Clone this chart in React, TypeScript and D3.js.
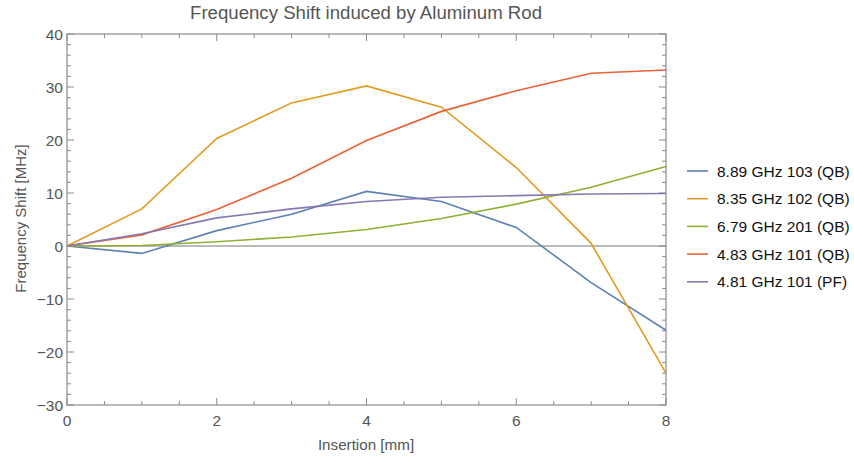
import React from "react";
import * as d3 from "d3";

const insertion = [0, 1, 2, 3, 4, 5, 6, 7, 8];
const seriesNames = [
  "8.89 GHz 103 (QB)",
  "8.35 GHz 102 (QB)",
  "6.79 GHz 201 (QB)",
  "4.83 GHz 101 (QB)",
  "4.81 GHz 101 (PF)",
];
const s889 = [0, -1.4, 2.9, 6.0, 10.3, 8.4, 3.5, -6.9, -15.9];
const s835 = [0, 7.0, 20.3, 27.0, 30.2, 26.2, 14.8, 0.5, -24.0];
const s679 = [0, 0.1, 0.8, 1.7, 3.1, 5.2, 7.9, 11.1, 15.0];
const s483 = [0, 2.1, 6.9, 12.8, 19.9, 25.4, 29.3, 32.6, 33.2];
const s481 = [0, 2.3, 5.3, 7.0, 8.4, 9.2, 9.5, 9.8, 9.9];
const seriesColors = ["#5E81B5", "#E19C24", "#8FB032", "#EB6235", "#8778B3"];
const xMajor = [0, 2, 4, 6, 8];
const yMajor = [-30, -20, -10, 0, 10, 20, 30, 40];

export default function App() {
  const W = 854, H = 458;
  const left = 67, right = 666, top = 34, bottom = 405;
  const x = d3.scaleLinear().domain([0, 8]).range([left, right]);
  const y = d3.scaleLinear().domain([-30, 40]).range([bottom, top]);
  const all = [s889, s835, s679, s483, s481];
  const line = d3.line<number>().x((_, i) => x(insertion[i])).y((d) => y(d));
  const xMinor = d3.range(0, 8.001, 0.5).filter((v) => !xMajor.includes(v));
  const yMinor = d3.range(-30, 40.001, 2).filter((v) => !yMajor.includes(v));
  const frame = "#8a8a8a";
  const font = "'Liberation Sans', Arial, sans-serif";
  const labelColor = "#555";
  return (
    <svg width={W} height={H} style={{ position: "absolute", left: 0, top: 0, background: "#fff" }} fontFamily={font}>
      <text x={366} y={19} textAnchor="middle" fontSize={17.5} fill="#555" textLength={352} lengthAdjust="spacingAndGlyphs">Frequency Shift induced by Aluminum Rod</text>
      {/* zero line */}
      <line x1={left} x2={right} y1={y(0)} y2={y(0)} stroke="#777" strokeWidth={1} />
      {/* ticks */}
      {xMajor.map((v) => (
        <g key={"xM" + v}>
          <line x1={x(v)} x2={x(v)} y1={bottom} y2={bottom - 7} stroke={frame} />
          <line x1={x(v)} x2={x(v)} y1={top} y2={top + 7} stroke={frame} />
          <text x={x(v)} y={bottom + 21} textAnchor="middle" fontSize={15.5} fill={labelColor}>{v}</text>
        </g>
      ))}
      {xMinor.map((v) => (
        <g key={"xm" + v}>
          <line x1={x(v)} x2={x(v)} y1={bottom} y2={bottom - 4} stroke={frame} />
          <line x1={x(v)} x2={x(v)} y1={top} y2={top + 4} stroke={frame} />
        </g>
      ))}
      {yMajor.map((v) => (
        <g key={"yM" + v}>
          <line x1={left} x2={left + 7} y1={y(v)} y2={y(v)} stroke={frame} />
          <line x1={right} x2={right - 7} y1={y(v)} y2={y(v)} stroke={frame} />
          <text x={left - 4} y={y(v) + 5.5} textAnchor="end" fontSize={15.5} fill={labelColor}>{v < 0 ? "\u2212" + Math.abs(v) : v}</text>
        </g>
      ))}
      {yMinor.map((v) => (
        <g key={"ym" + v}>
          <line x1={left} x2={left + 4} y1={y(v)} y2={y(v)} stroke={frame} />
          <line x1={right} x2={right - 4} y1={y(v)} y2={y(v)} stroke={frame} />
        </g>
      ))}
      {all.map((s, i) => (
        <path key={i} d={line(s) || ""} fill="none" stroke={seriesColors[i]} strokeWidth={1.6} />
      ))}
      <rect x={left} y={top} width={right - left} height={bottom - top} fill="none" stroke={frame} strokeWidth={1.2} />
      <text x={366} y={450} textAnchor="middle" fontSize={15.2} fill={labelColor}>Insertion [mm]</text>
      <text transform={`translate(26,218.5) rotate(-90)`} textAnchor="middle" fontSize={15} fill={labelColor}>Frequency Shift [MHz]</text>
      {seriesNames.map((n, i) => {
        const ly = 171 + i * 27.7;
        return (
          <g key={n}>
            <line x1={687} x2={708} y1={ly} y2={ly} stroke={seriesColors[i]} strokeWidth={1.6} />
            <text x={717} y={ly + 5.5} fontSize={15.5} fill="#111">{n}</text>
          </g>
        );
      })}
    </svg>
  );
}
